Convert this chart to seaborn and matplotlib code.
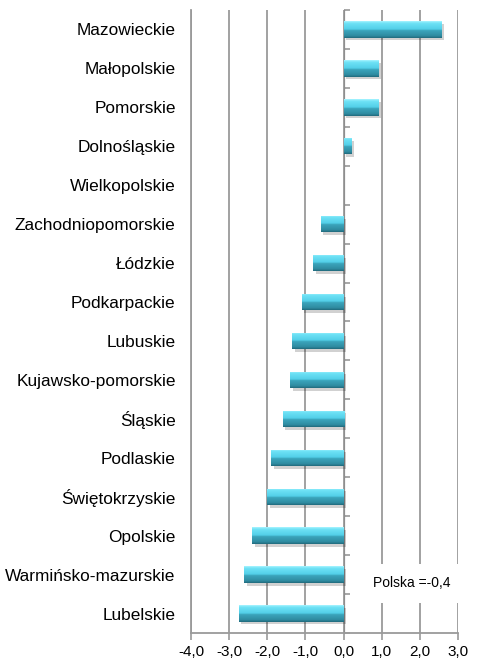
import numpy as np
import pandas as pd
import matplotlib
matplotlib.use("Agg")
import matplotlib.pyplot as plt
import seaborn as sns
from matplotlib.colors import LinearSegmentedColormap
import matplotlib.patheffects as pe

regions = ["Mazowieckie", "Małopolskie", "Pomorskie", "Dolnośląskie", "Wielkopolskie",
           "Zachodniopomorskie", "Łódzkie", "Podkarpackie", "Lubuskie", "Kujawsko-pomorskie",
           "Śląskie", "Podlaskie", "Świętokrzyskie", "Opolskie", "Warmińsko-mazurskie", "Lubelskie"]
values = [2.55, 0.9, 0.9, 0.2, 0.0, -0.6, -0.8, -1.1, -1.35, -1.4,
          -1.6, -1.9, -2.0, -2.4, -2.6, -2.75]
xticks = [-4, -3, -2, -1, 0, 1, 2, 3]
xtick_labels = ["-4,0", "-3,0", "-2,0", "-1,0", "0,0", "1,0", "2,0", "3,0"]
note = "Polska =-0,4"

sns.set_style("white")
plt.rcParams["font.family"] = ["Liberation Sans", "DejaVu Sans"]

df = pd.DataFrame({"region": regions, "value": values})

fig = plt.figure(figsize=(4.78, 6.61), dpi=100)
ax = fig.add_axes([0.3996, 0.0424, 0.5586, 0.9425])

sns.barplot(data=df, y="region", x="value", orient="h", ax=ax, color="#45c3dc",
            width=0.42, linewidth=0, saturation=1)

ax.set_xlim(-4, 3)
ax.set_ylim(len(regions) - 0.5, -0.5)

# gradient fill on bars
cmap = LinearSegmentedColormap.from_list(
    "bevel", [(0.0, "#a8f4ff"), (0.12, "#6fe2f6"), (0.48, "#52cfe8"),
              (0.55, "#3ba5bd"), (0.88, "#2f8ba0"), (1.0, "#216a7c")])
grad = np.linspace(0, 1, 64).reshape(-1, 1)
for p in list(ax.patches):
    x0, y0 = p.get_x(), p.get_y()
    w, h = p.get_width(), p.get_height()
    if w == 0:
        continue
    p.set_path_effects([pe.SimplePatchShadow(offset=(2, -2), shadow_rgbFace="#000000", alpha=0.18),
                        pe.Normal()])
    xa, xb = min(x0, x0 + w), max(x0, x0 + w)
    im = ax.imshow(grad, cmap=cmap, aspect="auto", extent=(xa, xb, y0 + h, y0),
                   zorder=p.get_zorder() + 0.1, interpolation="bilinear")
    im.set_clip_path(p)

ax.set_xticks(xticks)
ax.set_xticklabels(xtick_labels, fontsize=11, color="black")
ax.grid(axis="x", color="#9a9a9a", linewidth=1.3)
ax.set_axisbelow(True)
ax.set_xlabel("")
ax.set_ylabel("")
ax.tick_params(axis="y", length=0, pad=11, labelsize=12.4, labelcolor="black")
ax.tick_params(axis="x", length=5, width=1.2, color="#9a9a9a", direction="out", pad=4, bottom=True)
for s in ["top", "right"]:
    ax.spines[s].set_visible(False)
for s in ["left", "bottom"]:
    ax.spines[s].set_color("#9a9a9a")
    ax.spines[s].set_linewidth(1.3)

# category boundary ticks on the zero axis
sec = ax.secondary_yaxis(4 / 7)
sec.set_yticks(np.arange(-0.5, len(regions), 1.0))
sec.set_yticklabels([])
sec.tick_params(axis="y", length=4, width=1.2, color="#9a9a9a", direction="out")
sec.spines["left"].set_color("#9a9a9a")
sec.spines["left"].set_linewidth(1.3)

ax.text(0.828, 0.08, note, transform=ax.transAxes, ha="center", va="center",
        fontsize=10, color="black", bbox=dict(facecolor="white", edgecolor="none", pad=9), zorder=5)

fig.savefig("out.png", dpi=100)
